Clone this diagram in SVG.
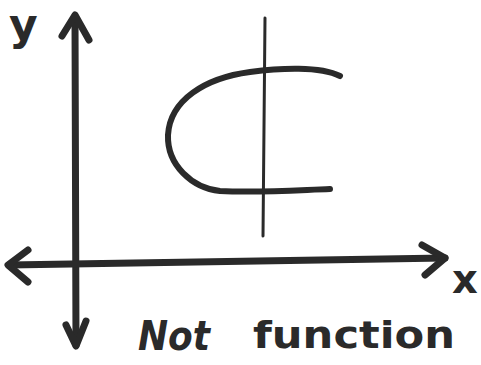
<svg xmlns="http://www.w3.org/2000/svg" width="481" height="365" viewBox="0 0 481 365">
<style>
.ink{fill:none;stroke:#2a2a2a;stroke-linecap:round;stroke-linejoin:round}
.ax{stroke-width:7}
.cv{stroke-width:6}
.thin{stroke-width:3}
.lbl{font-family:"DejaVu Sans",sans-serif;fill:#2a2a2a;font-weight:bold}
</style>
<rect width="481" height="365" fill="#fff"/>
<g id="connectors">
<g id="y-axis">
<path class="ink ax" d="M75 17 L76 345"/>
<path class="ink ax" d="M62 36 L75 15 L89 40"/>
<path class="ink ax" d="M66 325 L76 346 L86 321"/>
</g>
<g id="x-axis">
<path class="ink ax" d="M9 265 L445 258"/>
<path class="ink ax" d="M28 250 L8 265 L28 282"/>
<path class="ink ax" d="M422 245 L445 258 L425 275"/>
</g>
</g>
<g id="vertical-line">
<path class="ink thin" d="M265 18 L263 236"/>
</g>
<g id="curve">
<path class="ink cv" d="M340 76 C320 66 280 68 250 72 C205 78 170 100 168 135 C167 165 192 188 220 191 C260 193 300 190 330 189"/>
</g>
<g id="label-y">
<text class="lbl" x="9" y="40" font-size="44">y</text>
</g>
<g id="label-x">
<text class="lbl" x="452" y="293" font-size="40">x</text>
</g>
<g id="label-not-function">
<text class="lbl" x="138" y="350" font-size="40" font-style="italic" textLength="72" lengthAdjust="spacingAndGlyphs">Not</text>
<text class="lbl" x="253" y="348" font-size="38" textLength="202" lengthAdjust="spacingAndGlyphs">function</text>
</g>
</svg>
